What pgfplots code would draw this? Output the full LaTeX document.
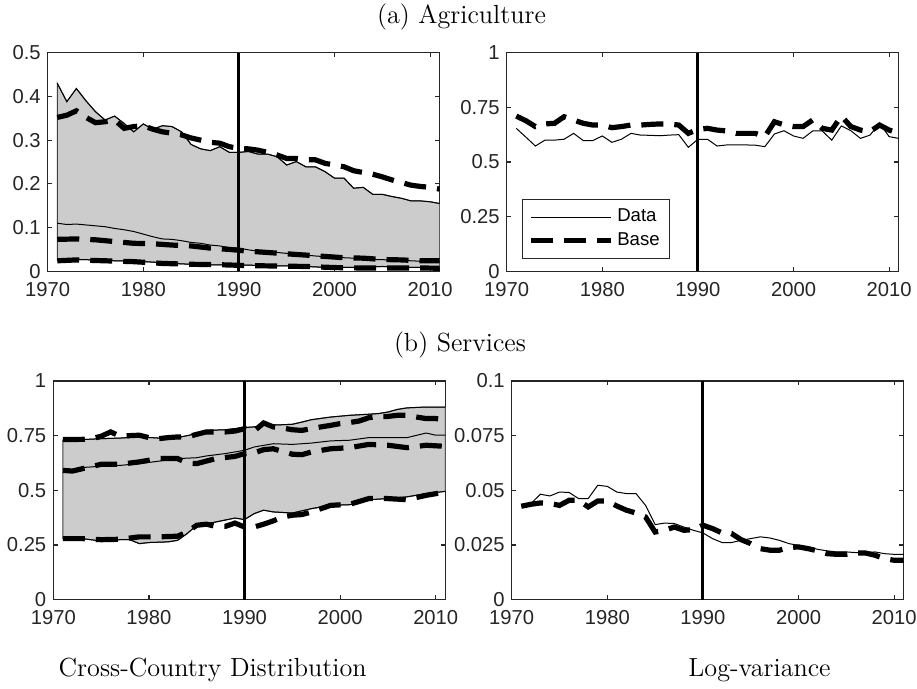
\documentclass[border=0pt]{standalone}
\usepackage{fontspec}
\usepackage{pgfplots}
\pgfplotsset{compat=1.18}
\newfontfamily\mlfont{Liberation Sans}
\definecolor{bandgray}{gray}{0.8}
\definecolor{axgray}{gray}{0.15}

\pgfplotsset{
  panel/.style={
    width=196pt, height=109.3pt, scale only axis,
    xmin=1970, xmax=2011,
    xtick={1970,1980,1990,2000,2010},
    xticklabels={1970,1980,1990,2000,2010},
    axis line style={axgray, line width=0.6pt},
    every tick/.style={axgray, line width=0.6pt},
    major tick length=2.2pt,
    tick align=inside,
    ticklabel style={font=\fontsize{10.1}{12}\mlfont, text=axgray},
    xticklabel style={yshift=-2pt},
  },
  datline/.style={black, line width=0.5pt},
  basecurve/.style={black, line width=2.6pt, dash pattern=on 11pt off 5.5pt},
  vline/.style={black, line width=1.5pt, forget plot},
  band/.style={fill=bandgray, draw=black!75, line width=0.5pt, forget plot},
}

\begin{document}
\begin{tikzpicture}
\path[use as bounding box] (0,0) rectangle (458.5pt,344.5pt);

\node[anchor=base, inner sep=0pt, font=\fontsize{13.1}{15}\selectfont] at (230.75pt,332.5pt) {(a) Agriculture};
\node[anchor=base, inner sep=0pt, font=\fontsize{13.1}{15}\selectfont] at (230pt,168.5pt) {(b) Services};
\node[anchor=base west, inner sep=0pt, font=\fontsize{13.1}{15}\selectfont] at (29.15pt,6pt) {Cross-Country Distribution};
\node[anchor=base west, inner sep=0pt, font=\fontsize{13.1}{15}\selectfont] at (344pt,6pt) {Log-variance};

% (a) Agriculture: cross-country distribution
\begin{axis}[panel, at={(23.85pt,208.85pt)}, anchor=south west,
  ymin=0, ymax=0.5, ytick={0,0.1,0.2,0.3,0.4,0.5},
  yticklabels={0,0.1,0.2,0.3,0.4,0.5}]
% band between the upper and lower data bounds
\addplot[band] coordinates {(1971,0.430)(1972,0.388)(1973,0.418)(1974,0.390)(1975,0.365)(1976,0.346)(1977,0.355)(1978,0.338)(1979,0.319)(1980,0.337)(1981,0.325)(1982,0.333)(1983,0.331)(1984,0.319)(1985,0.290)(1986,0.280)(1987,0.276)(1988,0.285)(1989,0.272)(1990,0.272)(1991,0.274)(1992,0.268)(1993,0.268)(1994,0.262)(1995,0.243)(1996,0.251)(1997,0.239)(1998,0.239)(1999,0.228)(2000,0.213)(2001,0.213)(2002,0.190)(2003,0.192)(2004,0.176)(2005,0.176)(2006,0.171)(2007,0.167)(2008,0.161)(2009,0.161)(2010,0.159)(2011,0.155)
 (2011,0.008)(2008,0.009)(2005,0.011)(2002,0.009)(1999,0.009)(1996,0.012)(1993,0.013)(1990,0.0145)(1987,0.0145)(1985,0.016)(1983,0.018)(1981,0.021)(1979,0.023)(1977,0.024)(1975,0.026)(1973,0.027)(1971,0.026)} -- cycle;
\addplot[datline] coordinates {(1971,0.430)(1972,0.388)(1973,0.418)(1974,0.390)(1975,0.365)(1976,0.346)(1977,0.355)(1978,0.338)(1979,0.319)(1980,0.337)(1981,0.325)(1982,0.333)(1983,0.331)(1984,0.319)(1985,0.290)(1986,0.280)(1987,0.276)(1988,0.285)(1989,0.272)(1990,0.272)(1991,0.274)(1992,0.268)(1993,0.268)(1994,0.262)(1995,0.243)(1996,0.251)(1997,0.239)(1998,0.239)(1999,0.228)(2000,0.213)(2001,0.213)(2002,0.190)(2003,0.192)(2004,0.176)(2005,0.176)(2006,0.171)(2007,0.167)(2008,0.161)(2009,0.161)(2010,0.159)(2011,0.155)};
\addplot[datline] coordinates {(1971,0.026)(1973,0.027)(1975,0.026)(1977,0.024)(1979,0.023)(1981,0.021)(1983,0.018)(1985,0.016)(1987,0.0145)(1990,0.0145)(1993,0.013)(1996,0.012)(1999,0.009)(2002,0.009)(2005,0.011)(2008,0.009)(2011,0.008)};
\addplot[datline] coordinates {(1971,0.110)(1972,0.107)(1973,0.108)(1974,0.106)(1975,0.104)(1976,0.102)(1977,0.098)(1978,0.095)(1979,0.091)(1980,0.085)(1981,0.079)(1982,0.074)(1983,0.073)(1984,0.070)(1985,0.066)(1986,0.064)(1987,0.060)(1988,0.058)(1989,0.054)(1990,0.053)(1991,0.049)(1992,0.046)(1993,0.045)(1994,0.043)(1995,0.041)(1996,0.040)(1997,0.037)(1998,0.035)(2000,0.032)(2002,0.030)(2004,0.027)(2006,0.026)(2008,0.024)(2010,0.022)(2011,0.022)};
\addplot[vline] coordinates {(1990,0) (1990,0.5)};
\addplot[basecurve] coordinates {(1971,0.352)(1972,0.357)(1973,0.367)(1974,0.352)(1975,0.340)(1976,0.342)(1977,0.346)(1978,0.327)(1979,0.331)(1980,0.333)(1981,0.325)(1982,0.319)(1983,0.316)(1984,0.312)(1985,0.305)(1986,0.300)(1987,0.295)(1988,0.293)(1989,0.285)(1990,0.281)(1991,0.280)(1992,0.277)(1993,0.272)(1994,0.266)(1995,0.258)(1996,0.258)(1997,0.255)(1998,0.255)(1999,0.247)(2000,0.243)(2001,0.239)(2002,0.230)(2003,0.226)(2004,0.222)(2005,0.216)(2006,0.209)(2007,0.203)(2008,0.197)(2009,0.194)(2010,0.192)(2011,0.188)};
\addplot[basecurve] coordinates {(1971,0.073)(1973,0.074)(1975,0.072)(1977,0.068)(1979,0.064)(1981,0.063)(1983,0.060)(1985,0.058)(1987,0.053)(1989,0.050)(1991,0.046)(1993,0.043)(1995,0.040)(1997,0.037)(1999,0.034)(2001,0.031)(2003,0.030)(2005,0.027)(2007,0.026)(2009,0.024)(2011,0.024)};
\addplot[basecurve] coordinates {(1971,0.024)(1973,0.026)(1976,0.024)(1979,0.022)(1982,0.018)(1985,0.016)(1988,0.015)(1991,0.013)(1994,0.012)(1997,0.011)(2000,0.0085)(2003,0.0075)(2006,0.0075)(2009,0.0075)(2011,0.007)};
\end{axis}

% (a) Agriculture: log-variance
\begin{axis}[panel, at={(253.35pt,208.85pt)}, anchor=south west,
  ymin=0, ymax=1, ytick={0,0.25,0.5,0.75,1},
  yticklabels={0,0.25,0.5,0.75,1},
  legend style={at={(0.04,0.055)}, anchor=south west, draw=axgray,
    line width=0.5pt, font=\fontsize{9.3}{11}\mlfont,
    inner xsep=3pt, inner ysep=3pt},
  legend cell align=left,
  legend image code/.code={\draw[#1] (0pt,0pt) -- (39.6pt,0pt);}]
\addplot[vline] coordinates {(1990,0) (1990,1)};
\addplot[datline] coordinates {(1971,0.654)(1972,0.614)(1973,0.573)(1974,0.600)(1975,0.600)(1976,0.604)(1977,0.631)(1978,0.598)(1979,0.598)(1980,0.619)(1981,0.590)(1982,0.604)(1983,0.631)(1984,0.623)(1985,0.622)(1986,0.620)(1987,0.623)(1988,0.625)(1989,0.567)(1990,0.604)(1991,0.604)(1992,0.573)(1993,0.578)(1994,0.578)(1995,0.578)(1996,0.577)(1997,0.570)(1998,0.628)(1999,0.643)(2000,0.619)(2001,0.608)(2002,0.642)(2003,0.642)(2004,0.600)(2005,0.665)(2006,0.643)(2007,0.608)(2008,0.623)(2009,0.677)(2010,0.616)(2011,0.608)};
\addlegendentry{Data}
\addplot[basecurve] coordinates {(1971,0.710)(1972,0.689)(1973,0.662)(1974,0.674)(1975,0.677)(1976,0.707)(1977,0.692)(1978,0.677)(1979,0.669)(1980,0.669)(1981,0.657)(1982,0.662)(1983,0.669)(1984,0.669)(1985,0.672)(1986,0.674)(1987,0.674)(1988,0.669)(1989,0.631)(1990,0.649)(1991,0.654)(1992,0.646)(1993,0.642)(1994,0.631)(1995,0.631)(1996,0.631)(1997,0.616)(1998,0.684)(1999,0.670)(2000,0.662)(2001,0.662)(2002,0.692)(2003,0.654)(2004,0.646)(2005,0.710)(2006,0.662)(2007,0.646)(2008,0.639)(2009,0.669)(2010,0.646)(2011,0.631)};
\addlegendentry{Base}
\end{axis}

% (b) Services: cross-country distribution
\begin{axis}[panel, at={(26.65pt,44.7pt)}, anchor=south west,
  ymin=0, ymax=1, ytick={0,0.25,0.5,0.75,1},
  yticklabels={0,0.25,0.5,0.75,1}]
% band between the upper and lower data bounds
\addplot[band] coordinates {(1971,0.729)(1973,0.732)(1975,0.736)(1977,0.739)(1979,0.744)(1981,0.739)(1983,0.741)(1985,0.759)(1986,0.774)(1988,0.777)(1990,0.787)(1991,0.790)(1992,0.797)(1994,0.800)(1995,0.802)(1996,0.812)(1997,0.823)(1999,0.835)(2001,0.843)(2003,0.848)(2004,0.851)(2005,0.858)(2006,0.870)(2007,0.877)(2009,0.881)(2011,0.881)
 (2011,0.495)(2009,0.485)(2007,0.470)(2005,0.462)(2003,0.457)(2001,0.434)(1999,0.431)(1997,0.416)(1995,0.396)(1993,0.401)(1992,0.409)(1991,0.393)(1990,0.366)(1989,0.373)(1987,0.355)(1985,0.340)(1984,0.302)(1983,0.271)(1982,0.264)(1980,0.261)(1979,0.256)(1978,0.274)(1977,0.274)(1975,0.268)(1973,0.279)(1971,0.279)} -- cycle;
\addplot[datline] coordinates {(1971,0.729)(1973,0.732)(1975,0.736)(1977,0.739)(1979,0.744)(1981,0.739)(1983,0.741)(1985,0.759)(1986,0.774)(1988,0.777)(1990,0.787)(1991,0.790)(1992,0.797)(1994,0.800)(1995,0.802)(1996,0.812)(1997,0.823)(1999,0.835)(2001,0.843)(2003,0.848)(2004,0.851)(2005,0.858)(2006,0.870)(2007,0.877)(2009,0.881)(2011,0.881)};
\addplot[datline] coordinates {(1971,0.279)(1973,0.279)(1975,0.268)(1977,0.274)(1978,0.274)(1979,0.256)(1980,0.261)(1982,0.264)(1983,0.271)(1984,0.302)(1985,0.340)(1987,0.355)(1989,0.373)(1990,0.366)(1991,0.393)(1992,0.409)(1993,0.401)(1995,0.396)(1997,0.416)(1999,0.431)(2001,0.434)(2003,0.457)(2005,0.462)(2007,0.470)(2009,0.485)(2011,0.495)};
\addplot[datline] coordinates {(1971,0.594)(1972,0.591)(1973,0.604)(1975,0.610)(1977,0.614)(1979,0.622)(1981,0.633)(1983,0.645)(1985,0.649)(1986,0.657)(1988,0.668)(1990,0.683)(1991,0.698)(1993,0.713)(1995,0.710)(1997,0.716)(1999,0.726)(2001,0.729)(2003,0.741)(2005,0.741)(2007,0.741)(2009,0.762)(2010,0.752)(2011,0.752)};
\addplot[vline] coordinates {(1990,0) (1990,1)};
\addplot[basecurve] coordinates {(1971,0.732)(1973,0.733)(1974,0.736)(1975,0.747)(1976,0.767)(1977,0.747)(1978,0.750)(1979,0.752)(1980,0.741)(1981,0.736)(1982,0.741)(1983,0.744)(1984,0.744)(1985,0.756)(1986,0.767)(1987,0.767)(1988,0.767)(1989,0.771)(1990,0.782)(1991,0.771)(1992,0.808)(1993,0.790)(1994,0.785)(1995,0.777)(1996,0.774)(1997,0.782)(1998,0.790)(1999,0.797)(2000,0.805)(2001,0.810)(2002,0.817)(2003,0.832)(2004,0.838)(2005,0.838)(2006,0.843)(2007,0.843)(2008,0.835)(2009,0.828)(2010,0.828)(2011,0.823)};
\addplot[basecurve] coordinates {(1971,0.591)(1972,0.588)(1975,0.619)(1977,0.619)(1979,0.630)(1981,0.645)(1983,0.645)(1984,0.625)(1985,0.622)(1987,0.645)(1989,0.655)(1990,0.668)(1991,0.671)(1992,0.686)(1993,0.690)(1995,0.665)(1996,0.663)(1997,0.675)(1999,0.690)(2001,0.695)(2003,0.710)(2005,0.706)(2007,0.695)(2009,0.706)(2011,0.701)};
\addplot[basecurve] coordinates {(1971,0.279)(1973,0.279)(1975,0.274)(1977,0.276)(1979,0.287)(1981,0.287)(1983,0.290)(1984,0.309)(1985,0.340)(1986,0.345)(1987,0.335)(1988,0.335)(1989,0.350)(1990,0.332)(1991,0.332)(1992,0.345)(1993,0.360)(1994,0.378)(1995,0.386)(1996,0.389)(1997,0.401)(1998,0.416)(1999,0.431)(2001,0.436)(2003,0.462)(2005,0.462)(2007,0.457)(2009,0.477)(2011,0.492)};
\end{axis}

% (b) Services: log-variance
\begin{axis}[panel, at={(255.85pt,44.7pt)}, anchor=south west,
  ymin=0, ymax=0.1, ytick={0,0.025,0.05,0.075,0.1},
  yticklabels={0,0.025,0.05,0.075,0.1}]
\addplot[vline] coordinates {(1990,0) (1990,0.1)};
\addplot[datline] coordinates {(1971,0.0427)(1972,0.0439)(1973,0.0482)(1974,0.0474)(1975,0.0492)(1976,0.0490)(1977,0.0462)(1978,0.0462)(1979,0.0523)(1980,0.0518)(1981,0.0492)(1982,0.0485)(1983,0.0485)(1984,0.0431)(1985,0.0343)(1986,0.0350)(1987,0.0348)(1988,0.0332)(1989,0.0317)(1990,0.0305)(1991,0.0279)(1992,0.0261)(1993,0.0261)(1994,0.0271)(1995,0.0279)(1996,0.0287)(1997,0.0282)(1998,0.0271)(1999,0.0256)(2000,0.0248)(2001,0.0241)(2002,0.0230)(2003,0.0223)(2004,0.0218)(2005,0.0218)(2006,0.0215)(2007,0.0215)(2008,0.0218)(2009,0.0210)(2010,0.0207)(2011,0.0207)};
\addplot[basecurve] coordinates {(1971,0.0427)(1972,0.0436)(1973,0.0442)(1974,0.0440)(1975,0.0431)(1976,0.0454)(1977,0.0454)(1978,0.0424)(1979,0.0451)(1980,0.0451)(1981,0.0428)(1982,0.0409)(1983,0.0396)(1984,0.0378)(1985,0.0309)(1986,0.0317)(1987,0.0332)(1988,0.0317)(1989,0.0320)(1990,0.0340)(1991,0.0325)(1992,0.0305)(1993,0.0302)(1994,0.0274)(1995,0.0256)(1996,0.0233)(1997,0.0226)(1998,0.0226)(1999,0.0238)(2000,0.0241)(2001,0.0233)(2002,0.0223)(2003,0.0210)(2004,0.0207)(2005,0.0207)(2006,0.0213)(2007,0.0213)(2008,0.0203)(2009,0.0187)(2010,0.0180)(2011,0.0180)};
\end{axis}
\end{tikzpicture}
\end{document}
